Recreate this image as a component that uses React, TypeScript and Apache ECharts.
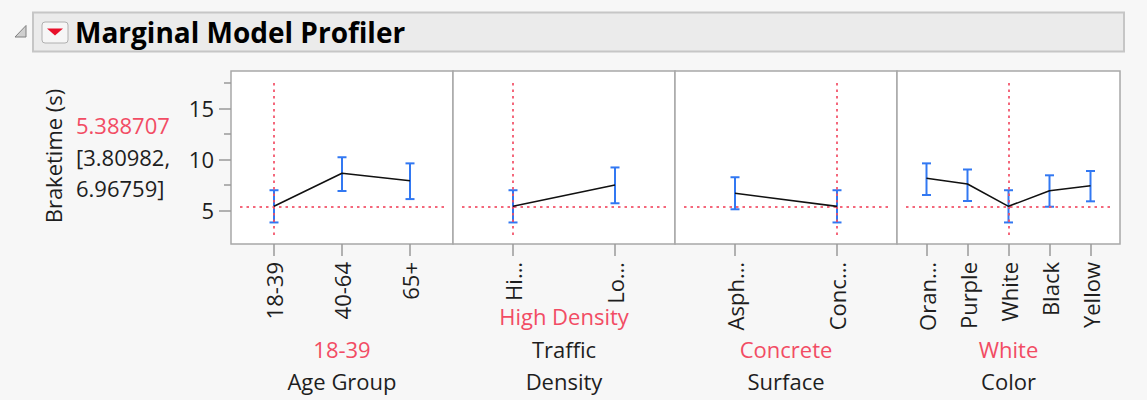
import React, { useEffect, useRef } from "react";
import * as echarts from "echarts";

// ---------- data ----------
const responseName = "Braketime (s)";
const currentValue = 5.388707;
const currentLow = 3.80982;
const currentHigh = 6.96759;

const factorNames = [["Age Group"], ["Traffic", "Density"], ["Surface"], ["Color"]];
const currentSettings = ["18-39", "High Density", "Concrete", "White"];

const ageCats = ["18-39", "40-64", "65+"];
const ageTicks = ["18-39", "40-64", "65+"];
const ageMean = [5.388707, 8.63, 7.9];
const ageLow = [3.80982, 6.89, 6.1];
const ageHigh = [6.96759, 10.2, 9.6];

const trafficCats = ["High Density", "Low Density"];
const trafficTicks = ["Hi…", "Lo…"];
const trafficMean = [5.388707, 7.48];
const trafficLow = [3.80982, 5.69];
const trafficHigh = [6.96759, 9.2];

const surfaceCats = ["Asphalt", "Concrete"];
const surfaceTicks = ["Asph…", "Conc…"];
const surfaceMean = [6.67, 5.388707];
const surfaceLow = [5.1, 3.80982];
const surfaceHigh = [8.24, 6.96759];

const colorCats = ["Orange", "Purple", "White", "Black", "Yellow"];
const colorTicks = ["Oran…", "Purple", "White", "Black", "Yellow"];
const colorMean = [8.14, 7.58, 5.388707, 6.92, 7.41];
const colorLow = [6.5, 5.91, 3.80982, 5.35, 5.88];
const colorHigh = [9.6, 9.0, 6.96759, 8.43, 8.85];

const yMajorTicks = [5, 10, 15];
const yMinorTicks = [7.5, 12.5, 17.5];
const yMin = 2.58;
const yMax = 17.77;

// ---------- style / layout ----------
const FONT = "'Segoe UI', 'Open Sans', sans-serif";
const RED = "#f24c64";
const BLUE = "#3278f2";
const TXT = "#1e1e1e";
const FRAME = "#a8a8a8";
const panelLefts = [231, 453, 675, 897];
const panelRights = [453, 675, 897, 1120];
const panelTop = 71;
const panelBottom = 244;
const inset = 9;

const panels = [
  { cats: ageCats, ticks: ageTicks, mean: ageMean, low: ageLow, high: ageHigh },
  { cats: trafficCats, ticks: trafficTicks, mean: trafficMean, low: trafficLow, high: trafficHigh },
  { cats: surfaceCats, ticks: surfaceTicks, mean: surfaceMean, low: surfaceLow, high: surfaceHigh },
  { cats: colorCats, ticks: colorTicks, mean: colorMean, low: colorLow, high: colorHigh },
];

function buildOption() {
  const grids: any[] = [];
  const xAxes: any[] = [];
  const yAxes: any[] = [];
  const series: any[] = [];
  const graphics: any[] = [];

  // background header
  graphics.push({
    type: "rect",
    z: -20,
    shape: { x: 33, y: 12.5, width: 1091, height: 39 },
    style: { fill: "#ebebeb", stroke: "#c6c6c6", lineWidth: 2 },
  });
  graphics.push({
    type: "polygon",
    z: -19,
    shape: { points: [[26, 25.5], [26, 37], [15, 37]] },
    style: { fill: "#cfcfcf", stroke: "#808080", lineWidth: 1 },
  });
  graphics.push({
    type: "rect",
    z: -19,
    shape: { x: 42, y: 22, width: 26, height: 21, r: 3 },
    style: { fill: "#f6f6f6", stroke: "#b0b0b0", lineWidth: 1 },
  });
  graphics.push({
    type: "polygon",
    z: -18,
    shape: { points: [[47, 28.5], [63, 28.5], [55, 35.5]] },
    style: { fill: "#e8102a" },
  });
  graphics.push({
    type: "text",
    z: -18,
    x: 75,
    y: 32,
    style: {
      text: "Marginal Model Profiler",
      font: `bold 28px ${FONT}`,
      fill: "#000",
      verticalAlign: "middle",
      align: "left",
    },
  });

  // left response labels
  graphics.push({
    type: "text",
    x: 53,
    y: 156,
    rotation: Math.PI / 2,
    style: {
      text: responseName,
      font: `22px ${FONT}`,
      fill: TXT,
      align: "center",
      verticalAlign: "middle",
    },
  });
  const leftLines = [
    { t: currentValue.toFixed(6), c: RED, y: 125 },
    { t: "[" + currentLow + ",", c: TXT, y: 157 },
    { t: currentHigh + "]", c: TXT, y: 188 },
  ];
  leftLines.forEach((l) => {
    graphics.push({
      type: "text",
      x: 76,
      y: l.y,
      style: { text: l.t, font: `22px ${FONT}`, fill: l.c, align: "left", verticalAlign: "middle" },
    });
  });

  panels.forEach((p, i) => {
    const pl = panelLefts[i];
    const pr = panelRights[i];
    graphics.push({
      type: "rect",
      z: -10,
      shape: { x: pl, y: panelTop, width: pr - pl, height: panelBottom - panelTop },
      style: { fill: "#ffffff", stroke: FRAME, lineWidth: 1.5 },
    });
    const cx = (pl + pr) / 2;
    const names = factorNames[i];
    const lastY = 381;
    const lh = 32.5;
    names.forEach((n, k) => {
      graphics.push({
        type: "text",
        x: cx,
        y: lastY - (names.length - 1 - k) * lh,
        style: { text: n, font: `22px ${FONT}`, fill: TXT, align: "center", verticalAlign: "middle" },
      });
    });
    graphics.push({
      type: "text",
      x: cx,
      y: lastY - names.length * lh,
      style: { text: currentSettings[i], font: `22px ${FONT}`, fill: RED, align: "center", verticalAlign: "middle" },
    });

    grids.push({
      left: pl + inset,
      top: panelTop + inset,
      width: pr - pl - 2 * inset,
      height: panelBottom - panelTop - 2 * inset,
      show: false,
    });
    const ticks = p.ticks;
    xAxes.push({
      type: "category",
      gridIndex: i,
      data: p.cats,
      boundaryGap: true,
      position: "bottom",
      offset: inset,
      axisLine: { show: false },
      axisTick: { show: true, alignWithLabel: true, length: 12, lineStyle: { color: "#9a9a9a", width: 1.5 } },
      axisLabel: {
        rotate: 90,
        margin: 18,
        fontSize: 22,
        fontFamily: FONT,
        color: TXT,
        interval: 0,
        formatter: (_v: string, idx: number) => ticks[idx],
      },
      splitLine: { show: false },
    });
    const yIndex = yAxes.length;
    if (i === 0) {
      yAxes.push({
        type: "value",
        gridIndex: 0,
        min: yMin,
        max: yMax,
        position: "left",
        offset: inset,
        axisLine: { show: false },
        axisTick: { show: true, length: 12, customValues: yMajorTicks, lineStyle: { color: "#9a9a9a", width: 1.5 } },
        axisLabel: { show: true, customValues: yMajorTicks, margin: 17, fontSize: 22, fontFamily: FONT, color: TXT },
        splitLine: { show: false },
      });
      yAxes.push({
        type: "value",
        gridIndex: 0,
        min: yMin,
        max: yMax,
        position: "left",
        offset: inset,
        axisLine: { show: false },
        axisTick: { show: true, length: 7, customValues: yMinorTicks, lineStyle: { color: "#9a9a9a", width: 1.5 } },
        axisLabel: { show: false },
        splitLine: { show: false },
      });
    } else {
      yAxes.push({
        type: "value",
        gridIndex: i,
        min: yMin,
        max: yMax,
        show: false,
        splitLine: { show: false },
      });
    }

    series.push({
      type: "custom",
      xAxisIndex: i,
      yAxisIndex: yIndex,
      z: 4,
      silent: true,
      data: p.cats.map((_c, k) => [k, p.low[k], p.high[k]]),
      renderItem: (_params: any, api: any) => {
        const x = api.value(0);
        const lo = api.coord([x, api.value(1)]);
        const hi = api.coord([x, api.value(2)]);
        const cap = 4.5;
        const st = { stroke: BLUE, lineWidth: 2 };
        return {
          type: "group",
          children: [
            { type: "line", shape: { x1: lo[0], y1: lo[1], x2: hi[0], y2: hi[1] }, style: st },
            { type: "line", shape: { x1: lo[0] - cap, y1: lo[1], x2: lo[0] + cap, y2: lo[1] }, style: st },
            { type: "line", shape: { x1: hi[0] - cap, y1: hi[1], x2: hi[0] + cap, y2: hi[1] }, style: st },
          ],
        };
      },
    });
    series.push({
      type: "line",
      xAxisIndex: i,
      yAxisIndex: yIndex,
      z: 5,
      silent: true,
      symbol: "none",
      data: p.mean,
      lineStyle: { color: "#111", width: 1.6 },
      markLine: {
        silent: true,
        symbol: "none",
        label: { show: false },
        lineStyle: { color: RED, width: 2, type: [2.5, 4], opacity: 0.85 },
        data: [{ yAxis: currentValue }, { xAxis: currentSettings[i] }],
      },
    });
  });

  return {
    animation: false,
    backgroundColor: "#f7f7f7",
    grid: grids,
    xAxis: xAxes,
    yAxis: yAxes,
    series,
    graphic: { elements: graphics },
  };
}

export default function App() {
  const ref = useRef<HTMLDivElement>(null);
  useEffect(() => {
    if (!ref.current) return;
    const chart = echarts.init(ref.current, undefined, { renderer: "svg" });
    chart.setOption(buildOption() as any);
    return () => chart.dispose();
  }, []);
  return (
    <div
      ref={ref}
      style={{ position: "fixed", left: 0, top: 0, width: 1147, height: 400 }}
    />
  );
}
